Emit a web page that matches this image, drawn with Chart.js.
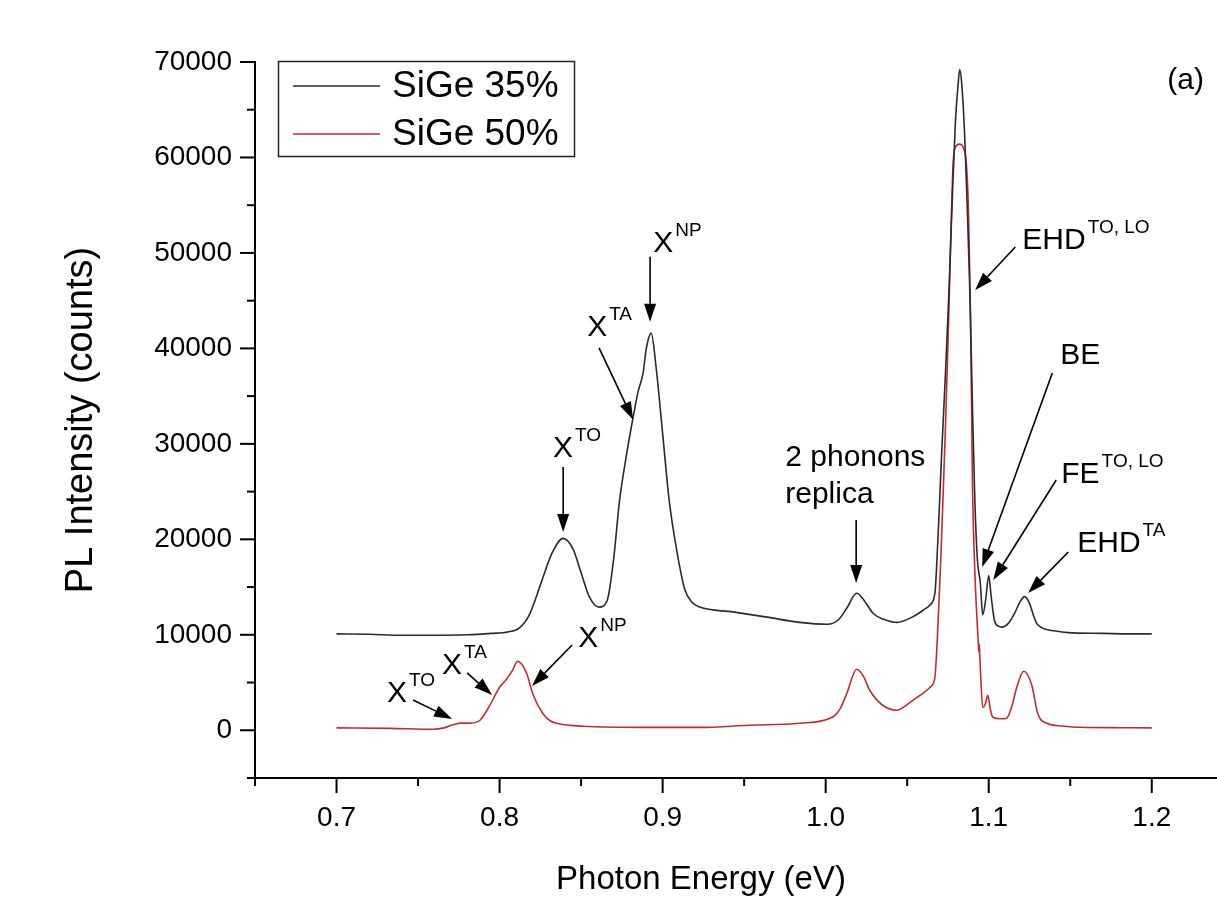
<!DOCTYPE html>
<html>
<head>
<meta charset="utf-8">
<script src="https://cdn.jsdelivr.net/npm/chart.js@4.4.1/dist/chart.umd.min.js"></script>
<style>
  html, body { margin: 0; padding: 0; background: #fff; }
  #wrap { width: 1217px; height: 916px; }
</style>
</head>
<body>
<div id="wrap"><canvas id="plChart" width="1217" height="916"></canvas></div>
<script>
// ---------------- DATA ----------------
const seriesLabels = ['SiGe 35%', 'SiGe 50%'];

const energy35 = [0.700, 0.720, 0.740, 0.760, 0.780, 0.795, 0.805, 0.812, 0.818, 0.826, 0.832, 0.839,
  0.845, 0.850, 0.855, 0.861, 0.866, 0.870, 0.8736, 0.8775, 0.8816, 0.885, 0.888, 0.890, 0.893,
  0.896, 0.900, 0.904, 0.9086, 0.9135, 0.918, 0.9227, 0.943, 0.964, 0.984, 1.001, 1.008, 1.013,
  1.019, 1.024, 1.029, 1.036, 1.0436, 1.053, 1.060, 1.0638, 1.067, 1.068, 1.0695, 1.071, 1.0735,
  1.0755, 1.0775, 1.0795, 1.0812, 1.0822, 1.0834, 1.0852, 1.0868, 1.0885, 1.090, 1.0915, 1.093,
  1.0937, 1.0948, 1.0963, 1.098, 1.100, 1.1015, 1.1035, 1.106, 1.108, 1.112, 1.116, 1.119,
  1.122, 1.125, 1.1275, 1.1294, 1.133, 1.137, 1.145, 1.1515, 1.170, 1.185, 1.200];
const intensity35 = [10100, 10050, 9950, 9950, 10000, 10150, 10300, 10700, 12000, 15700, 18500, 20100,
  19000, 16500, 14000, 12900, 13600, 18000, 24100, 28500, 32500, 35500, 37400, 40000, 41600,
  38000, 31100, 24100, 18900, 14800, 13400, 12900, 12400, 11850, 11300, 11100, 11600, 12800,
  14360, 13500, 12260, 11600, 11300, 11850, 12600, 13100, 14360, 17000, 22500, 28500, 37500,
  45500, 55000, 63500, 67600, 69200, 67800, 62500, 55000, 45500, 34000, 24000, 18000,
  16800, 15500, 12100, 13500, 16200, 14000, 11500, 10900, 10800, 11200, 12300, 13400,
  14000, 13300, 12000, 11200, 10700, 10500, 10300, 10200, 10150, 10100, 10100];

const energy50 = [0.700, 0.7325, 0.759, 0.766, 0.772, 0.776, 0.782, 0.788, 0.794, 0.800, 0.804, 0.808,
  0.811, 0.8166, 0.8202, 0.8264, 0.831, 0.835, 0.851, 0.892, 0.9227, 0.953, 0.984, 1.004, 1.009,
  1.013, 1.019, 1.023, 1.027, 1.035, 1.0436, 1.0534, 1.064, 1.067, 1.068, 1.069, 1.0705, 1.072,
  1.0735, 1.075, 1.0762, 1.0772, 1.0782, 1.080, 1.082, 1.0845, 1.0862, 1.0874, 1.0882, 1.0889,
  1.0895, 1.090, 1.0912, 1.0926, 1.0935, 1.0939, 1.0942, 1.0946, 1.0963, 1.098, 1.0994, 1.101,
  1.1025, 1.107, 1.111, 1.114, 1.1172, 1.1215, 1.1264, 1.130, 1.1356, 1.145, 1.156, 1.180, 1.200];
const intensity50 = [250, 200, 100, 250, 600, 750, 750, 1050, 2600, 4500, 5300, 6300,
  7230, 5970, 3880, 1780, 1000, 730, 420, 300, 300, 520, 730, 1360, 2300,
  3880, 6390, 5700, 4190, 2620, 2100, 3140, 4500, 5550, 8000, 11500, 17500, 24500,
  32000, 40500, 48000, 54500, 59500, 61200, 61400, 61000, 59500, 55500, 49500, 42000,
  34000, 26000, 18000, 12260, 9500, 8200, 9000, 7500, 2410, 2800, 3670, 2200,
  1360, 1200, 1260, 2400, 4500, 6180, 4720, 1780, 730, 450, 310, 270, 250];

// axis ranges and ticks
const xRange = [0.65, 1.24];
const yRange = [-5000, 70000];
const xTicks = [0.65, 0.70, 0.75, 0.80, 0.85, 0.90, 0.95, 1.00, 1.05, 1.10, 1.15, 1.20];
const xLabelStep = 0.1;
const yStep = 5000, yLabelStep = 10000;

// peak labels: text anchored in data space (energy, intensity), arrow from -> to
const peakLabels = [
  { text: 'X', sup: 'TO', at: [0.8328, 29466], from: [0.8390, 27580], to: [0.8390, 20770] },
  { text: 'X', sup: 'TA', at: [0.8537, 42150], from: [0.8610, 40060], to: [0.8819, 32520] },
  { text: 'X', sup: 'NP', at: [0.8942, 50950], from: [0.8923, 49590], to: [0.8923, 42780] },
  { text: '2 phonons', at: [0.9752, 28540] },
  { text: 'replica', at: [0.9752, 24660], from: [1.0187, 22030], to: [1.0187, 15430] },
  { text: 'EHD', sup: 'TO, LO', at: [1.1206, 51250], from: [1.1163, 50620], to: [1.0917, 46120] },
  { text: 'BE', at: [1.1439, 39210], from: [1.1390, 37430], to: [1.0960, 17110] },
  { text: 'FE', sup: 'TO, LO', at: [1.1445, 26740], from: [1.1414, 26220], to: [1.1028, 15740] },
  { text: 'EHD', sup: 'TA', at: [1.1543, 19510], from: [1.1488, 18680], to: [1.1242, 14380] },
  { text: 'X', sup: 'TO', at: [0.7310, 3855], from: [0.7469, 3174], to: [0.7709, 1184] },
  { text: 'X', sup: 'TA', at: [0.7647, 6735], from: [0.7801, 6002], to: [0.7954, 3698] },
  { text: 'X', sup: 'NP', at: [0.8482, 9616], from: [0.8445, 8935], to: [0.8199, 4640] },
  { text: '(a)', at: [1.2095, 68010] }
];

const FONT = '"Liberation Sans", Arial, Helvetica, sans-serif';
const lineColors = ['#2b2b2b', '#c62a2f'];

function isStep(v, step) {
  return Math.abs(v / step - Math.round(v / step)) < 1e-6;
}

// ---------------- PLUGIN: ticks, legend, labels ----------------
const plotDecor = {
  id: 'plotDecor',
  afterDraw(chart) {
    const { ctx, chartArea, scales: { x, y } } = chart;
    ctx.save();
    ctx.strokeStyle = '#000';
    ctx.lineWidth = 2;

    // x ticks (outward)
    x.ticks.forEach(t => {
      const px = x.getPixelForValue(t.value);
      const len = isStep(t.value, xLabelStep) ? 15 : 8;
      ctx.beginPath();
      ctx.moveTo(px, chartArea.bottom);
      ctx.lineTo(px, chartArea.bottom + len);
      ctx.stroke();
    });
    // y ticks (outward)
    y.ticks.forEach(t => {
      if (!isStep(t.value, yStep)) return;
      const py = y.getPixelForValue(t.value);
      const len = isStep(t.value, yLabelStep) ? 15 : 8;
      ctx.beginPath();
      ctx.moveTo(chartArea.left, py);
      ctx.lineTo(chartArea.left - len, py);
      ctx.stroke();
    });

    // x title
    ctx.fillStyle = '#000';
    ctx.font = '33px ' + FONT;
    ctx.textAlign = 'center';
    ctx.textBaseline = 'middle';
    ctx.fillText('Photon Energy (eV)', 701, 880);

    // legend box
    const lx = 278, ly = 61, lw = 296, lh = 95;
    ctx.lineWidth = 1.5;
    ctx.strokeStyle = '#222';
    ctx.strokeRect(lx + 0.5, ly + 0.5, lw, lh);
    ctx.font = '37px ' + FONT;
    ctx.textAlign = 'left';
    chart.data.datasets.forEach((ds, i) => {
      const rowY = ly + 25 + i * 48;
      ctx.strokeStyle = ds.borderColor;
      ctx.lineWidth = 1.6;
      ctx.beginPath();
      ctx.moveTo(lx + 15, rowY);
      ctx.lineTo(lx + 102, rowY);
      ctx.stroke();
      ctx.fillStyle = '#000';
      ctx.fillText(ds.label, lx + 114, rowY + 1);
    });

    // peak labels and arrows
    peakLabels.forEach(p => {
      const tx = x.getPixelForValue(p.at[0]);
      const ty = y.getPixelForValue(p.at[1]);
      ctx.fillStyle = '#000';
      ctx.textAlign = 'left';
      ctx.textBaseline = 'middle';
      ctx.font = '30px ' + FONT;
      ctx.fillText(p.text, tx, ty);
      if (p.sup) {
        const w = ctx.measureText(p.text).width;
        ctx.font = '19px ' + FONT;
        ctx.fillText(p.sup, tx + w + 2, ty - 13);
      }
      if (p.from) {
        const x1 = x.getPixelForValue(p.from[0]), y1 = y.getPixelForValue(p.from[1]);
        const x2 = x.getPixelForValue(p.to[0]), y2 = y.getPixelForValue(p.to[1]);
        const ang = Math.atan2(y2 - y1, x2 - x1);
        const headLen = 18, headHalf = 6;
        const bx = x2 - headLen * Math.cos(ang), by = y2 - headLen * Math.sin(ang);
        ctx.strokeStyle = '#000';
        ctx.lineWidth = 1.6;
        ctx.beginPath();
        ctx.moveTo(x1, y1);
        ctx.lineTo(bx, by);
        ctx.stroke();
        ctx.beginPath();
        ctx.moveTo(x2, y2);
        ctx.lineTo(bx + headHalf * Math.sin(ang), by - headHalf * Math.cos(ang));
        ctx.lineTo(bx - headHalf * Math.sin(ang), by + headHalf * Math.cos(ang));
        ctx.closePath();
        ctx.fill();
      }
    });
    ctx.restore();
  }
};

// ---------------- CHART ----------------
const ctx = document.getElementById('plChart').getContext('2d');
const chart = new Chart(ctx, {
  type: 'line',
  data: {
    datasets: [
      {
        label: seriesLabels[0],
        data: energy35.map((e, i) => ({ x: e, y: intensity35[i] })),
        borderColor: lineColors[0],
        borderWidth: 1.6,
        pointRadius: 0,
        cubicInterpolationMode: 'monotone',
        fill: false
      },
      {
        label: seriesLabels[1],
        data: energy50.map((e, i) => ({ x: e, y: intensity50[i] })),
        borderColor: lineColors[1],
        borderWidth: 1.6,
        pointRadius: 0,
        cubicInterpolationMode: 'monotone',
        fill: false
      }
    ]
  },
  options: {
    responsive: false,
    animation: false,
    devicePixelRatio: 1,
    layout: { padding: { top: 62, right: 0, bottom: 0, left: 0 } },
    plugins: {
      legend: { display: false },
      tooltip: { enabled: false }
    },
    scales: {
      x: {
        type: 'linear',
        min: xRange[0],
        max: xRange[1],
        afterBuildTicks: s => { s.ticks = xTicks.map(v => ({ value: v })); },
        afterFit: s => { s.height = 138; },
        grid: { display: false },
        border: { display: true, color: '#000', width: 2 },
        ticks: {
          autoSkip: false,
          maxRotation: 0,
          padding: 15,
          color: '#000',
          font: { family: FONT, size: 28 },
          callback: v => isStep(v, xLabelStep) ? v.toFixed(1) : ''
        }
      },
      y: {
        type: 'linear',
        min: yRange[0],
        max: yRange[1],
        afterFit: s => { s.width = 255; },
        grid: { display: false },
        border: { display: true, color: '#000', width: 2 },
        title: {
          display: true,
          text: 'PL Intensity (counts)',
          color: '#000',
          font: { family: FONT, size: 38 },
          padding: { top: 59, bottom: 0 }
        },
        ticks: {
          stepSize: yStep,
          autoSkip: false,
          padding: 15,
          color: '#000',
          font: { family: FONT, size: 28 },
          callback: v => isStep(v, yLabelStep) ? String(v) : ''
        }
      }
    }
  },
  plugins: [plotDecor]
});
</script>
</body>
</html>
